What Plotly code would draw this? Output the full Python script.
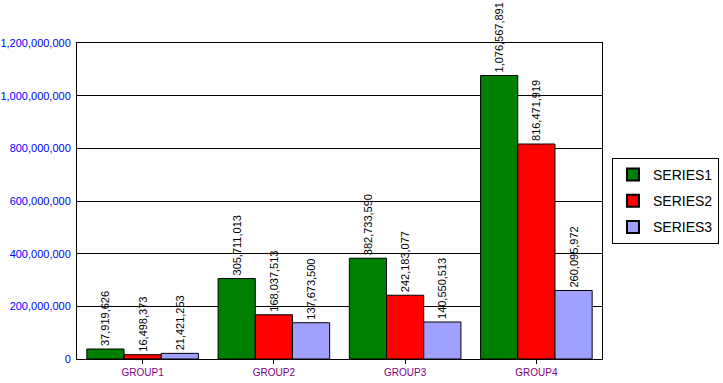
import plotly.graph_objects as go

categories = ["GROUP1", "GROUP2", "GROUP3", "GROUP4"]
series_names = ["SERIES1", "SERIES2", "SERIES3"]
series1 = [37919626, 305711013, 382733590, 1076567891]
series2 = [16498373, 168037513, 242183077, 816471919]
series3 = [21421253, 137673500, 140550513, 260095972]
colors = ["#008000", "#FF0000", "#A0A0FF"]
y_ticks = [0, 200000000, 400000000, 600000000, 800000000, 1000000000, 1200000000]

FONT = "Liberation Sans, Arial, sans-serif"

fig = go.Figure()
for name, vals, col in zip(series_names, [series1, series2, series3], colors):
    fig.add_trace(go.Bar(
        x=categories, y=vals, name=name, legendgroup=name,
        marker=dict(color=col, line=dict(color="black", width=1)),
        text=[f"{v:,}" for v in vals],
        textposition="outside", textangle=-90,
        textfont=dict(family=FONT, size=11, color="black"),
        constraintext="none", cliponaxis=False,
    ))

fig.update_layout(
    width=723, height=383,
    margin=dict(l=77, r=121, t=43, b=24, autoexpand=False),
    paper_bgcolor="white", plot_bgcolor="white",
    barmode="group", bargap=0.15, bargroupgap=0,
    font=dict(family=FONT, size=11, color="black"),
    legend=dict(
        x=1.019, xanchor="left", y=0.5, yanchor="middle",
        bordercolor="black", borderwidth=1, bgcolor="white",
        font=dict(family=FONT, size=14, color="black"),
        itemsizing="constant", tracegroupgap=5,
    ),
    showlegend=True,
)
fig.update_xaxes(
    automargin=False,
    showline=True, linecolor="black", linewidth=1, mirror=True,
    ticks="outside", ticklen=4, tickcolor="black",
    tickfont=dict(family=FONT, size=10, color="#800080"),
    showgrid=False,
)
fig.update_yaxes(
    automargin=False,
    range=[0, 1200000000], tickvals=y_ticks, tickformat=",",
    showline=True, linecolor="black", linewidth=1, mirror=True,
    ticks="outside", ticklen=3, tickcolor="white",
    tickfont=dict(family=FONT, size=11, color="#0000FF"),
    showgrid=True, gridcolor="black", gridwidth=1,
    zeroline=False,
)

fig.write_html(
    "out.html",
    config={"displayModeBar": False},
    post_script="document.body.style.margin='0';document.body.style.padding='0';",
)
